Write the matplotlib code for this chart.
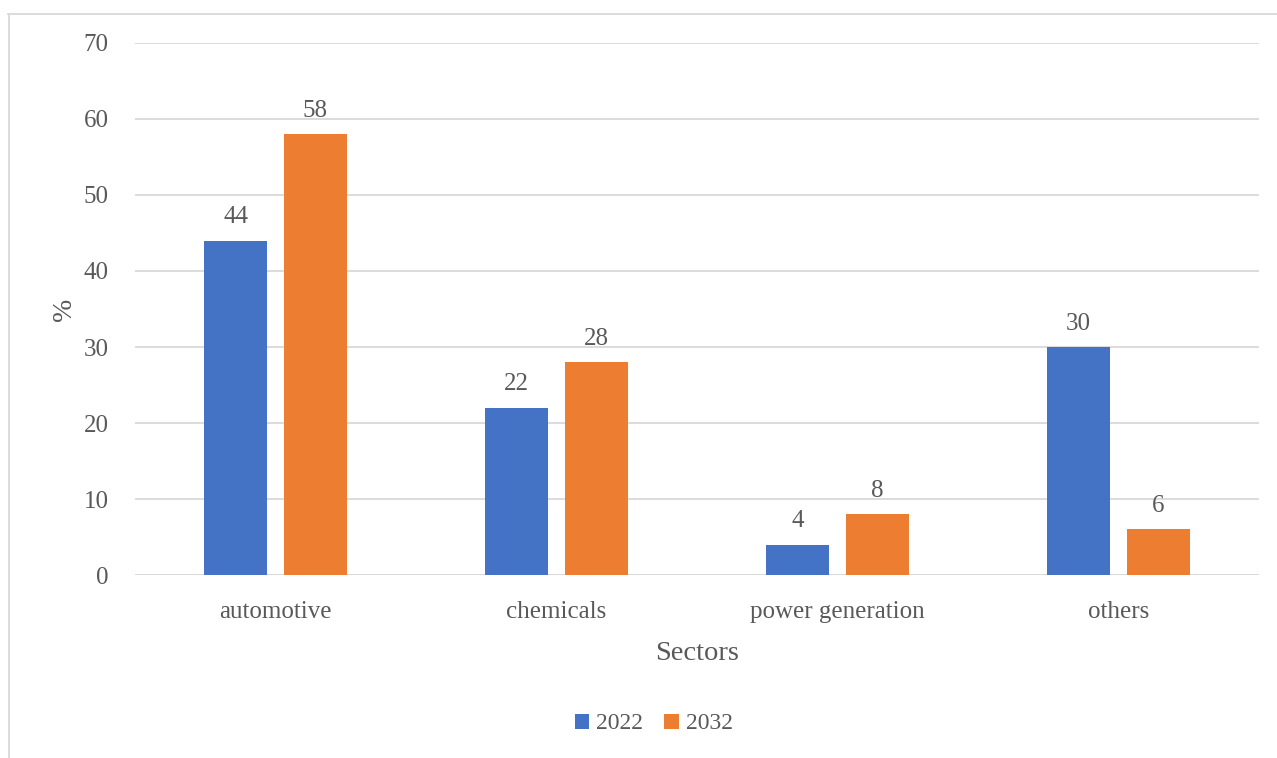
import matplotlib.pyplot as plt
from matplotlib.lines import Line2D
import numpy as np

sectors = ['automotive', 'chemicals', 'power generation', 'others']
share_2022 = [44, 22, 4, 30]
share_2032 = [58, 28, 8, 6]

blue = '#4472C4'
orange = '#ED7D31'
grey = '#595959'

plt.rcParams['font.family'] = ['Liberation Serif', 'DejaVu Serif']

fig = plt.figure(figsize=(12.77, 7.58), dpi=100)
ax = fig.add_axes([0.1057, 0.2414, 0.8803, 0.7019])

x = np.arange(len(sectors))
w = 0.224
off = 0.142
b1 = ax.bar(x - off, share_2022, w, color=blue, label='2022', zorder=3)
b2 = ax.bar(x + off, share_2032, w, color=orange, label='2032', zorder=3)

# value labels above each bar
for bars, vals in ((b1, share_2022), (b2, share_2032)):
    for rect, v in zip(bars, vals):
        ax.annotate(str(v), (rect.get_x() + rect.get_width() / 2, v),
                    xytext=(0, 9), textcoords='offset points',
                    ha='center', va='bottom', fontsize=18, color=grey)

ax.set_xlim(-0.5, 3.5)
ax.set_ylim(0, 70)
ax.set_yticks(range(0, 71, 10))
ax.set_xticks(x)
ax.set_xticklabels(sectors)
ax.tick_params(axis='both', length=0, labelsize=18, labelcolor=grey)
ax.tick_params(axis='y', pad=19)
ax.tick_params(axis='x', pad=19)

ax.grid(axis='y', color='#D9D9D9', linewidth=1.3, zorder=0)
for s in ax.spines.values():
    s.set_visible(False)
ax.axhline(0, color='#D9D9D9', linewidth=1.3, zorder=2)

ax.set_xlabel('Sectors', fontsize=20.5, color=grey, labelpad=13)
ax.set_ylabel('%', fontsize=20, color=grey, labelpad=5)

fig.legend(handles=[b1, b2], labels=['2022', '2032'], loc='center',
           bbox_to_anchor=(0.512, 0.045), ncol=2, frameon=False,
           fontsize=17, labelcolor=grey, handlelength=0.6, handleheight=0.6,
           handletextpad=0.3, columnspacing=0.9)

# light outer frame (top and left edges)
fig.add_artist(Line2D([0.0063, 1.0], [0.9815, 0.9815], transform=fig.transFigure,
                      color='#D9D9D9', linewidth=1.3))
fig.add_artist(Line2D([0.0070, 0.0070], [0.0, 0.9815], transform=fig.transFigure,
                      color='#D9D9D9', linewidth=1.3))

fig.savefig('out.png', dpi=100)
